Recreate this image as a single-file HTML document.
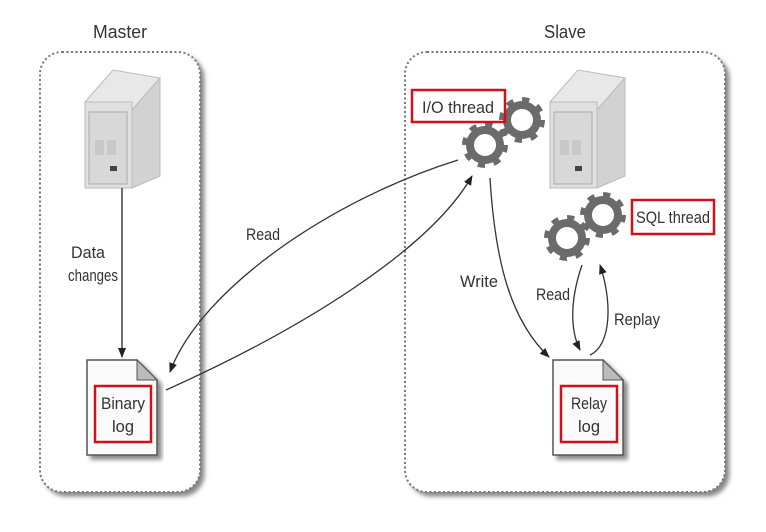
<!DOCTYPE html>
<html><head><meta charset="utf-8"><style>
body{margin:0;background:#fff;width:766px;height:532px;overflow:hidden}
svg{display:block}
text{font-family:"Liberation Sans",sans-serif;fill:#333}
</style></head><body>
<svg width="766" height="532" viewBox="0 0 766 532">
<defs>
<marker id="ah" markerWidth="10" markerHeight="10" refX="9" refY="5" orient="auto" markerUnits="userSpaceOnUse">
<path d="M0,1 L10,5 L0,9 z" fill="#222"/></marker>
<g id="srv">
<path d="M0,32 L28,0 L75,8 L47,40 z" fill="#e8e8e8" stroke="#bbb"/>
<path d="M47,40 L75,8 L75,106 L47,118 z" fill="#d2d2d2" stroke="#bbb"/>
<rect x="0" y="32" width="47" height="86" fill="#e0e0e0" stroke="#bbb"/>
<rect x="4" y="42" width="38" height="72" fill="#d8d8d8" stroke="#aaa"/>
<rect x="10" y="70" width="9" height="15" fill="#c8c8c8"/><rect x="22" y="70" width="9" height="15" fill="#c8c8c8"/>
<rect x="25" y="96" width="7" height="5" fill="#444"/>
</g>
<g id="gear">
<circle r="15" fill="none" stroke="#6b6b6b" stroke-width="8"/>
<circle r="20" fill="none" stroke="#6b6b6b" stroke-width="6" stroke-dasharray="7 8.7"/>
</g>
<g id="doc">
<path d="M0,0 L50,0 L70,20 L70,95 L0,95 z" fill="#fafafa" stroke="#555" stroke-width="1.5"/>
<path d="M50,0 L50,20 L70,20 z" fill="#bbb" stroke="#555"/>
</g>
<filter id="sh"><feDropShadow dx="4" dy="4" stdDeviation="2" flood-color="#888"/></filter>
</defs>
<rect x="40" y="52" width="160" height="440" rx="22" fill="#fff" stroke="#777" stroke-width="2" stroke-dasharray="2 2.5" filter="url(#sh)"/>
<rect x="405" y="52" width="320" height="440" rx="22" fill="#fff" stroke="#777" stroke-width="2" stroke-dasharray="2 2.5" filter="url(#sh)"/>
<text x="120" y="38" font-size="18" text-anchor="middle" textLength="54" lengthAdjust="spacingAndGlyphs">Master</text>
<text x="565" y="38" font-size="18" text-anchor="middle" textLength="42" lengthAdjust="spacingAndGlyphs">Slave</text>
<use href="#srv" x="85" y="70"/>
<use href="#srv" x="550" y="70"/>
<line x1="122" y1="188" x2="122" y2="357" stroke="#222" stroke-width="1.3" marker-end="url(#ah)"/>
<text x="88" y="258" font-size="17" text-anchor="middle" textLength="34" lengthAdjust="spacingAndGlyphs">Data</text>
<text x="93" y="281" font-size="17" text-anchor="middle" textLength="50" lengthAdjust="spacingAndGlyphs">changes</text>
<use href="#doc" x="87" y="360" filter="url(#sh)"/>
<rect x="95" y="386" width="56" height="56" fill="none" stroke="#d0101a" stroke-width="2.5"/>
<text x="123" y="409" font-size="17" text-anchor="middle" textLength="44" lengthAdjust="spacingAndGlyphs">Binary</text>
<text x="123" y="432" font-size="17" text-anchor="middle" textLength="22" lengthAdjust="spacingAndGlyphs">log</text>
<use href="#doc" x="553" y="360" filter="url(#sh)"/>
<rect x="561" y="386" width="56" height="56" fill="none" stroke="#d0101a" stroke-width="2.5"/>
<text x="589" y="409" font-size="17" text-anchor="middle" textLength="36" lengthAdjust="spacingAndGlyphs">Relay</text>
<text x="589" y="432" font-size="17" text-anchor="middle" textLength="22" lengthAdjust="spacingAndGlyphs">log</text>
<use href="#gear" x="522" y="120"/>
<use href="#gear" x="485" y="145"/>
<rect x="412" y="90" width="93" height="32" fill="none" stroke="#d0101a" stroke-width="2.5"/>
<text x="458" y="113" font-size="17" text-anchor="middle" textLength="72" lengthAdjust="spacingAndGlyphs">I/O thread</text>
<use href="#gear" x="603" y="215"/>
<use href="#gear" x="567" y="238"/>
<rect x="632" y="200" width="82" height="34" fill="none" stroke="#d0101a" stroke-width="2.5"/>
<text x="673" y="223" font-size="17" text-anchor="middle" textLength="74" lengthAdjust="spacingAndGlyphs">SQL thread</text>
<path d="M458,160 C330,200 200,290 170,372" fill="none" stroke="#333" stroke-width="1.3" marker-end="url(#ah)"/>
<path d="M166,390 C300,330 430,250 472,176" fill="none" stroke="#333" stroke-width="1.3" marker-end="url(#ah)"/>
<text x="263" y="240" font-size="17" text-anchor="middle" textLength="34" lengthAdjust="spacingAndGlyphs">Read</text>
<path d="M490,178 C495,260 510,320 549,357" fill="none" stroke="#333" stroke-width="1.3" marker-end="url(#ah)"/>
<text x="479" y="287" font-size="17" text-anchor="middle" textLength="38" lengthAdjust="spacingAndGlyphs">Write</text>
<path d="M582,265 C570,300 570,330 580,350" fill="none" stroke="#333" stroke-width="1.3" marker-end="url(#ah)"/>
<path d="M590,355 C612,345 612,300 600,265" fill="none" stroke="#333" stroke-width="1.3" marker-end="url(#ah)"/>
<text x="553" y="300" font-size="17" text-anchor="middle" textLength="34" lengthAdjust="spacingAndGlyphs">Read</text>
<text x="637" y="325" font-size="17" text-anchor="middle" textLength="46" lengthAdjust="spacingAndGlyphs">Replay</text>
</svg>
</body></html>
